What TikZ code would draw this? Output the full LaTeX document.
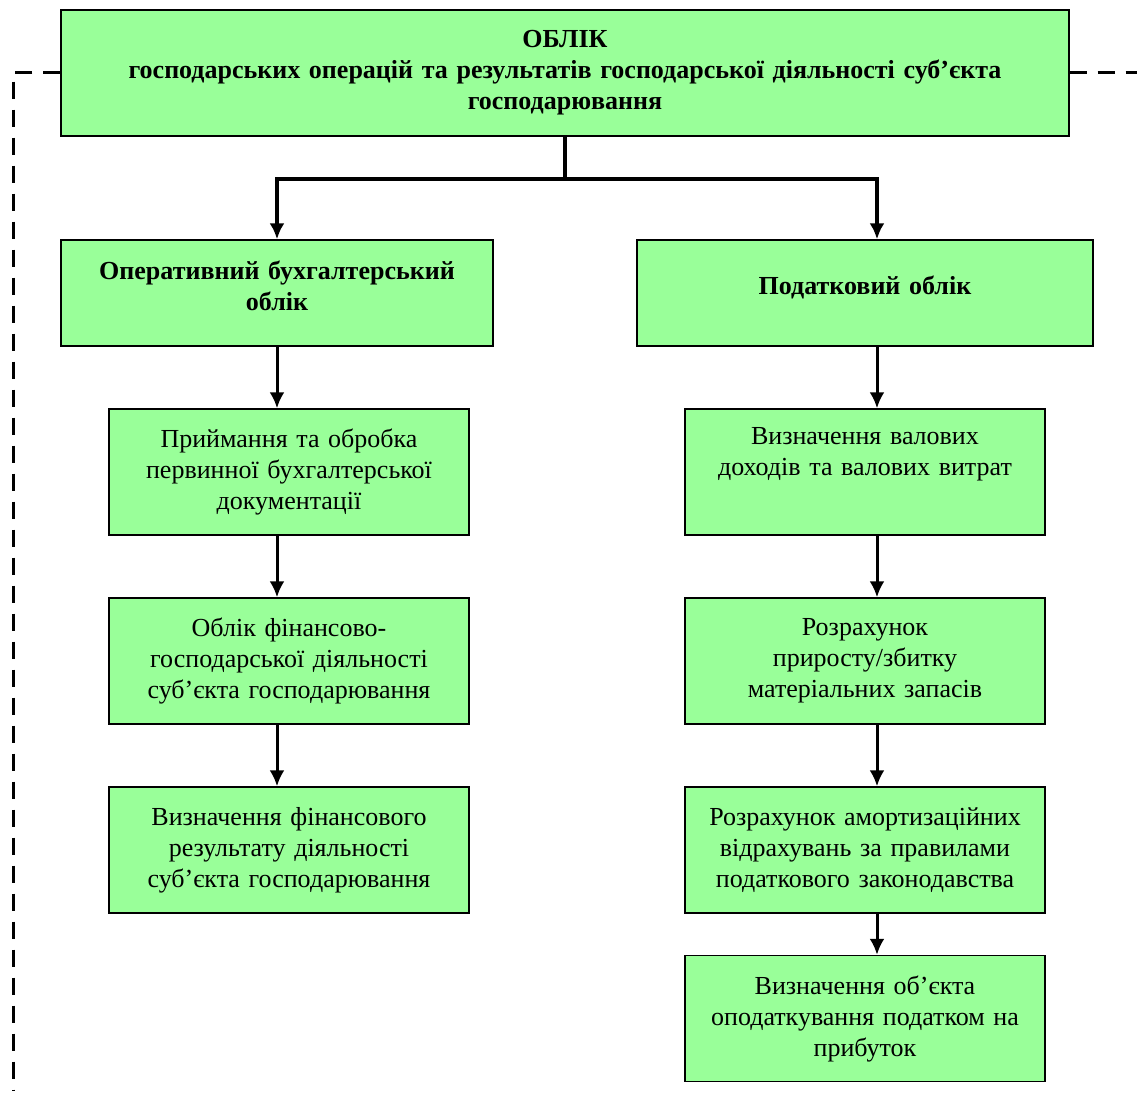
\documentclass[tikz,border=0pt]{standalone}
\usepackage{fontspec}
\setmainfont{Liberation Serif}
\usetikzlibrary{arrows.meta}
\definecolor{boxgreen}{RGB}{153,255,153}
\tikzstyle{greenbox} = [rectangle, 
inner sep=0pt, 
text centered, 
fill=boxgreen, 
draw=black, 
line width=0.7pt]
\tikzstyle{topbox} = [greenbox, 
text width=504pt, 
minimum height=63pt, 
font={\bfseries\fontsize{13}{15.5}\selectfont}]
\tikzstyle{headbox} = [greenbox, 
minimum height=53pt, 
text depth=8pt, 
font={\bfseries\fontsize{13}{15.5}\selectfont}]
\tikzstyle{stepbox} = [greenbox, 
text width=180pt, 
minimum height=63pt, 
font={\fontsize{13}{15.5}\selectfont}]
\tikzstyle{trunkline} = [line width=2pt]
\tikzstyle{stepline} = [line width=1.5pt]
\tikzstyle{dashline} = [line width=1.5pt, dash pattern=on 8.5pt off 5.5pt]

\begin{document}
\begin{tikzpicture}[x=0.5pt, y=0.5pt, node distance=94.5pt, >={Latex[length=8pt, width=7.5pt]}]
		\useasboundingbox (0,0) rectangle (1137,-1097);
		\node (oblik) [topbox] at (565,-73) {ОБЛІК\\ господарських операцій та результатів господарської діяльності суб’єкта\\ господарювання};
		
		\node (operative) [headbox, text width=216pt, text depth=22.5pt] at (277,-293) {Оперативний бухгалтерський\\ облік};
		\node (tax) [headbox, text width=228pt] at (865,-293) {Податковий облік};
		
		\node (pryimannia) [stepbox] at (289,-472) {Приймання та обробка\\ первинної бухгалтерської\\ документації};
		\node (finoblik) [stepbox, below of=pryimannia] {Облік фінансово-\\ господарської діяльності\\ суб’єкта господарювання};
		\node (finresult) [stepbox, below of=finoblik] {Визначення фінансового\\ результату діяльності\\ суб’єкта господарювання};
		
		\node (dokhody) [stepbox] at (865,-472) {Визначення валових\\ доходів та валових витрат\\ \strut};
		\node (zapasy) [stepbox, below of=dokhody] {Розрахунок\\ приросту/збитку\\ матеріальних запасів};
		\node (amort) [stepbox, below of=zapasy] {Розрахунок амортизаційних\\ відрахувань за правилами\\ податкового законодавства};
		\node (obiekt) [stepbox, below of=amort, yshift=10.25pt] {Визначення об’єкта\\ оподаткування податком на\\ прибуток};
		
		\coordinate (dashleft) at (13,-1090);
		\coordinate (dashright) at (1137,-73);
		\draw [dashline] (oblik.west) -| (dashleft);
		\draw [dashline] (oblik.east) -- (dashright);
		
		\draw [trunkline, ->] (oblik.south) -- ++(0,-42) -| (operative.north);
		\draw [trunkline, ->] (oblik.south) -- ++(0,-42) -| ([xshift=6pt]tax.north);
		
		\draw [stepline, ->] (operative.south) -- ([xshift=-6pt]pryimannia.north);
		\draw [stepline, ->] ([xshift=-6pt]pryimannia.south) -- ([xshift=-6pt]finoblik.north);
		\draw [stepline, ->] ([xshift=-6pt]finoblik.south) -- ([xshift=-6pt]finresult.north);
		
		\draw [stepline, ->] ([xshift=6pt]tax.south) -- ([xshift=6pt]dokhody.north);
		\draw [stepline, ->] ([xshift=6pt]dokhody.south) -- ([xshift=6pt]zapasy.north);
		\draw [stepline, ->] ([xshift=6pt]zapasy.south) -- ([xshift=6pt]amort.north);
		\draw [stepline, ->] ([xshift=6pt]amort.south) -- ([xshift=6pt]obiekt.north);
	\end{tikzpicture}
\end{document}
